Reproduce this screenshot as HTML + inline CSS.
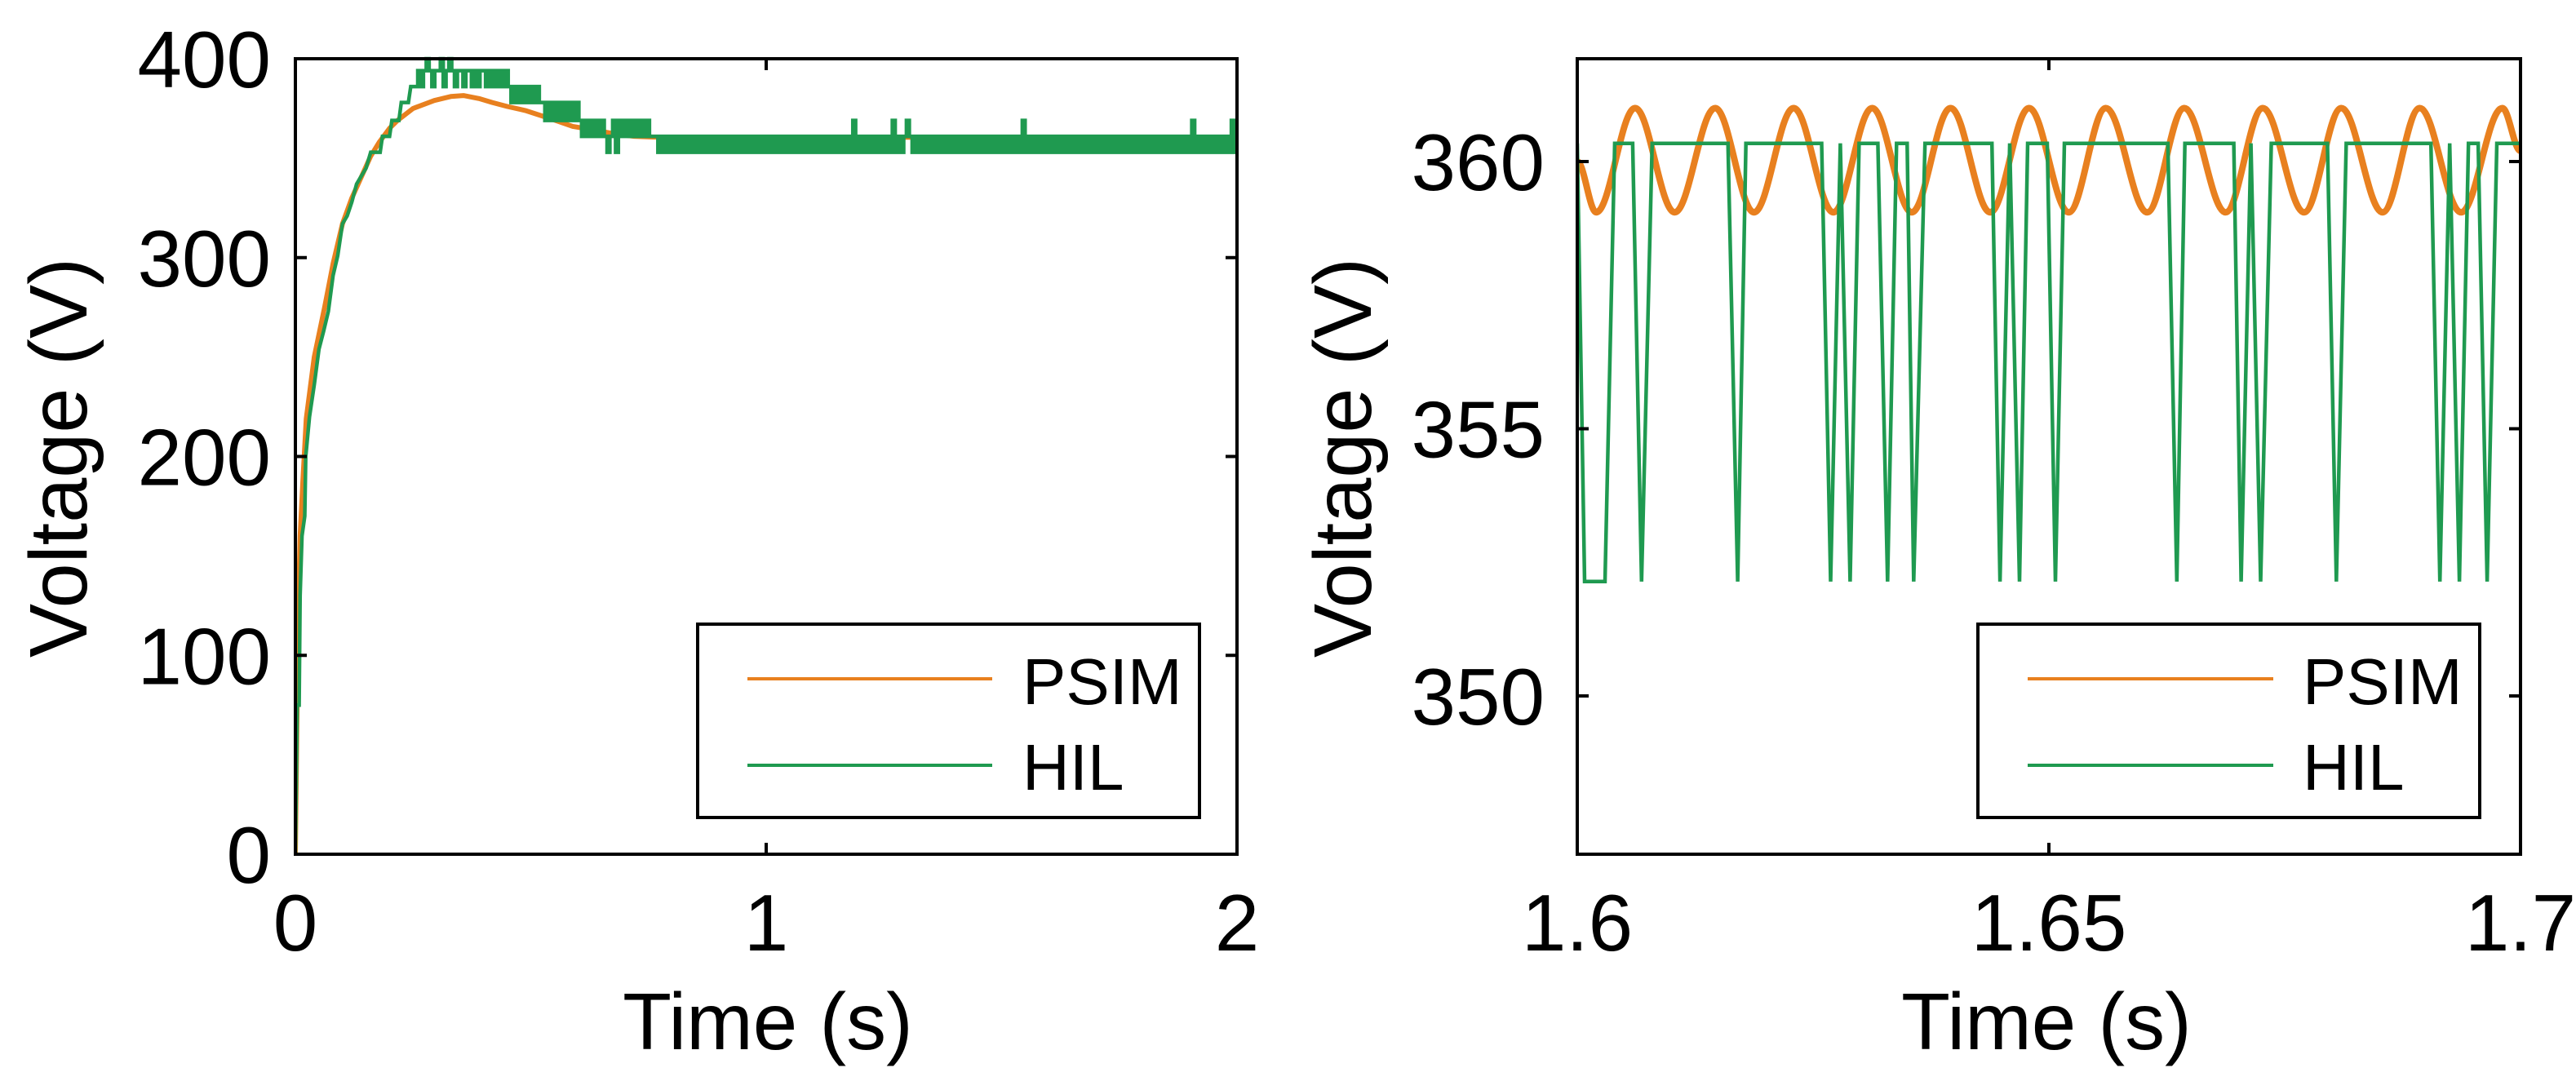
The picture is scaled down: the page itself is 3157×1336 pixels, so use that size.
<!DOCTYPE html>
<html><head><meta charset="utf-8"><style>
html,body{margin:0;padding:0;background:#fff;}
svg{display:block;}
text{font-family:"Liberation Sans",Arial,sans-serif;fill:#000;}
</style></head><body>
<svg id="fig" width="3157" height="1336" viewBox="0 0 3157 1336" xmlns="http://www.w3.org/2000/svg">
<g id="left"></g>
<g id="right"></g>
</svg>
<script>
// ---------- Left chart data ----------
const leftXTicks = [0, 1, 2];
const leftXTickLabels = ["0", "1", "2"];
const leftYTicks = [0, 100, 200, 300, 400];
const leftYTickLabels = ["0", "100", "200", "300", "400"];
const psimLeftT = [0, 0.003, 0.006, 0.01, 0.016, 0.023, 0.04, 0.062, 0.08, 0.1, 0.12, 0.139, 0.16, 0.178, 0.2, 0.217, 0.25, 0.295, 0.33, 0.357, 0.39, 0.418, 0.45, 0.488, 0.54, 0.589, 0.64, 0.682, 0.72, 0.76, 0.9, 1.2, 1.6, 2.0];
const psimLeftV = [0, 60, 120, 160, 188, 219, 250, 275, 297, 317, 330, 340, 351, 358, 365, 369, 375, 379, 381, 381.5, 380, 378, 376, 374, 370, 366, 364, 362, 361, 360.6, 360.5, 360.5, 360.5, 360.5];
const hilEarlyT = [0, 0.004, 0.008, 0.01, 0.014, 0.02, 0.022, 0.03, 0.04, 0.05, 0.06, 0.07, 0.08, 0.09, 0.1, 0.11, 0.12, 0.13, 0.14, 0.15, 0.16, 0.18, 0.185, 0.2, 0.205, 0.22, 0.225, 0.24, 0.245, 0.254];
const hilEarlyV = [0, 75, 75, 130, 160, 170, 200, 220, 236, 254, 263, 273, 291, 301, 317, 321, 328, 337, 341, 345, 353, 353, 361, 361, 369, 369, 378, 378, 386, 386];
const hilSampleStart = 0.26;
const hilSampleStep = 0.006;
const hilSampledV = [
394,386,394,400,394,386,394,394,400,386,394,400,394,386,394,394,386,394,394,386,394,386,394,394,386,394,386,394,386,394,386,394,
386,378,386,378,386,378,386,378,386,378,386,378,
378,369,378,369,378,369,378,369,378,369,378,369,378,
369,361,369,361,369,361,369,361,369,361,353,361,369,353,369,361,369,361,369,361,369,361,369,361,369,361,361,
361,353,361,353,361,353,361,353,361,353,
361,353,361,353,361,353,361,353,361,353,
361,353,361,353,361,353,361,353,361,353,
361,353,361,353,361,353,361,353,361,353,
361,353,361,353,361,353,361,353,361,353,
361,353,361,353,361,353,361,353,361,353,
361,353,361,353,361,353,361,353,361,353,
369,353,361,353,361,353,361,353,361,353,
361,353,361,353,369,353,361,353,361,369,
361,353,361,353,361,353,361,353,361,353,
361,353,361,353,361,353,361,353,361,353,
361,353,361,353,361,353,361,353,361,353,
361,353,361,353,361,353,361,353,361,353,
369,353,361,353,361,353,361,353,361,353,
361,353,361,353,361,353,361,353,361,353,
361,353,361,353,361,353,361,353,361,353,
361,353,361,353,361,353,361,353,361,353,
361,353,361,353,361,353,361,353,361,353,
361,353,361,353,361,353,361,353,361,353,
369,353,361,353,361,353,361,353,361,353,
361,353,361,353,369,353,361
];
// ---------- Right chart data ----------
const rightXTicks = [1.6, 1.65, 1.7];
const rightXTickLabels = ["1.6", "1.65", "1.7"];
const rightYTicks = [350, 355, 360];
const rightYTickLabels = ["350", "355", "360"];
const psimRightT = [1.6, 1.60201, 1.60613, 1.61033, 1.61462, 1.61874, 1.62294, 1.62715, 1.63126, 1.63546, 1.63958, 1.64378, 1.6479, 1.6521, 1.65604, 1.66042, 1.66436, 1.66874, 1.67268, 1.67706, 1.681, 1.68538, 1.68932, 1.6937, 1.69807, 1.7];
const psimRightV = [360.0, 359.05, 361.0, 359.05, 361.0, 359.05, 361.0, 359.05, 361.0, 359.05, 361.0, 359.05, 361.0, 359.05, 361.0, 359.05, 361.0, 359.05, 361.0, 359.05, 361.0, 359.05, 361.0, 359.05, 361.0, 360.2];
const hilRightT = [1.6,1.60078,1.60294,1.60397,1.60587,1.60682,1.60794,1.61598,1.61701,1.61788,1.62591,1.62686,1.62789,1.62893,1.62988,1.63187,1.6329,1.63385,1.63497,1.63567,1.63687,1.64396,1.64482,1.64585,1.64689,1.64775,1.64983,1.65069,1.65164,1.66261,1.66356,1.66442,1.6696,1.67038,1.67142,1.67245,1.67358,1.67953,1.68048,1.68152,1.6905,1.69145,1.69249,1.69352,1.69448,1.69551,1.69646,1.69749,1.7];
const hilRightV = [360.34,352.14,352.14,360.34,360.34,352.14,360.34,360.34,352.14,360.34,360.34,352.14,360.34,352.14,360.34,360.34,352.14,360.34,360.34,352.14,360.34,360.34,352.14,360.34,352.14,360.34,360.34,352.14,360.34,360.34,352.14,360.34,360.34,352.14,360.34,352.14,360.34,360.34,352.14,360.34,360.34,352.14,360.34,352.14,360.34,360.34,352.14,360.34,360.34];
const legendLabels = ["PSIM", "HIL"];

const NS = "http://www.w3.org/2000/svg";
const ORANGE = "#E8801F", GREEN = "#1F9A50";
function mk(tag, attrs, parent) {
  const e = document.createElementNS(NS, tag);
  for (const k in attrs) e.setAttribute(k, attrs[k]);
  parent.appendChild(e);
  return e;
}
function linScale(d0, d1, r0, r1) { return v => r0 + (v - d0) / (d1 - d0) * (r1 - r0); }

function drawAxes(g, L, R, T, B, sx, sy, xt, xtl, yt, ytl, yLabelRight, yTitleX, yTitleY, xTitleX) {
  for (let i = 0; i < xt.length; i++) {
    const x = sx(xt[i]);
    const t1 = mk("line", {x1: x, x2: x, y1: B, y2: B - 14, stroke: "#000", "stroke-width": 4}, g);
    
    
    const t2 = mk("line", {x1: x, x2: x, y1: T, y2: T + 14, stroke: "#000", "stroke-width": 4}, g);
    
    
    const lb = mk("text", {x: x, y: 1165, "font-size": 98, "text-anchor": "middle"}, g);
    lb.textContent = xtl[i];
    
    
  }
  for (let i = 0; i < yt.length; i++) {
    const y = sy(yt[i]);
    const t1 = mk("line", {x1: L, x2: L + 14, y1: y, y2: y, stroke: "#000", "stroke-width": 4}, g);
    
    
    const t2 = mk("line", {x1: R, x2: R - 14, y1: y, y2: y, stroke: "#000", "stroke-width": 4}, g);
    
    
    const lb = mk("text", {x: yLabelRight, y: y + 35, "font-size": 98, "text-anchor": "end"}, g);
    lb.textContent = ytl[i];
    
    
  }
  const yt2 = mk("text", {x: 0, y: 0, "font-size": 100, "text-anchor": "middle", textLength: 490, lengthAdjust: "spacingAndGlyphs", transform: `translate(${yTitleX},${yTitleY}) rotate(-90)`}, g);
  yt2.textContent = "Voltage (V)";
  
  
  const xt2 = mk("text", {x: xTitleX, y: 1286, "font-size": 98, "text-anchor": "middle"}, g);
  xt2.textContent = "Time (s)";
  
  
}
function polyPts(ts, vs, sx, sy) {
  return ts.map((t, i) => sx(t).toFixed(1) + "," + sy(vs[i]).toFixed(1)).join(" ");
}
function drawFrame(g, L, R, T, B) {
  const f = mk("rect", {x: L, y: T, width: R - L, height: B - T, fill: "none", stroke: "#000", "stroke-width": 4}, g);
  
  
}
function drawLegend(g, x0, x1, lx0, lx1, tx) {
  const box = mk("rect", {x: x0, y: 765, width: x1 - x0, height: 237, fill: "#fff", stroke: "#000", "stroke-width": 4}, g);
  
  
  const ys = [832, 938], cols = [ORANGE, GREEN], bys = [863, 968];
  for (let i = 0; i < 2; i++) {
    const ln = mk("line", {x1: lx0, x2: lx1, y1: ys[i], y2: ys[i], stroke: cols[i], "stroke-width": 4}, g);
    
    
    const t = mk("text", {x: tx, y: bys[i], "font-size": 80}, g);
    t.textContent = legendLabels[i];
    
    
  }
}

// ----- Left -----
(function () {
  const g = document.getElementById("left");
  const L = 362, R = 1516, T = 72, B = 1047;
  const sx = linScale(0, 2, L, R), sy = linScale(0, 400, B, T);
  const clip = mk("clipPath", {id: "clipL"}, g);
  mk("rect", {x: L, y: T - 4, width: R - L, height: B - T + 4}, clip);
  const ps = mk("polyline", {points: polyPts(psimLeftT, psimLeftV, sx, sy), fill: "none", stroke: ORANGE, "stroke-width": 6, "stroke-linejoin": "round", "clip-path": "url(#clipL)"}, g);
  
  
  const ht = hilEarlyT.slice(), hv = hilEarlyV.slice();
  let prev = hilEarlyV[hilEarlyV.length - 1];
  for (let i = 0; i < hilSampledV.length; i++) {
    const t = hilSampleStart + i * hilSampleStep;
    ht.push(t); hv.push(prev);
    ht.push(t); hv.push(hilSampledV[i]);
    prev = hilSampledV[i];
  }
  const hl = mk("polyline", {points: polyPts(ht, hv, sx, sy), fill: "none", stroke: GREEN, "stroke-width": 4.5, "clip-path": "url(#clipL)"}, g);
  
  
  drawFrame(g, L, R, T, B);
  drawAxes(g, L, R, T, B, sx, sy, leftXTicks, leftXTickLabels, leftYTicks, leftYTickLabels, 332, 106, 561, 941);
  drawLegend(g, 855, 1470, 916, 1216, 1253);
})();

// ----- Right -----
(function () {
  const g = document.getElementById("right");
  const L = 1933, R = 3089, T = 72, B = 1047;
  const sx = linScale(1.6, 1.7, L, R);
  const sy = linScale(350, 360, 853, 198);
  const clip = mk("clipPath", {id: "clipR"}, g);
  mk("rect", {x: L, y: T, width: R - L, height: B - T}, clip);
  let d = "M" + sx(psimRightT[0]).toFixed(1) + "," + sy(psimRightV[0]).toFixed(1);
  for (let i = 1; i < psimRightT.length; i++) {
    const x0 = sx(psimRightT[i - 1]), y0 = sy(psimRightV[i - 1]);
    const x1 = sx(psimRightT[i]), y1 = sy(psimRightV[i]);
    const dx = (x1 - x0) * 0.36;
    d += ` C${(x0 + dx).toFixed(1)},${y0.toFixed(1)} ${(x1 - dx).toFixed(1)},${y1.toFixed(1)} ${x1.toFixed(1)},${y1.toFixed(1)}`;
  }
  const ps = mk("path", {d: d, fill: "none", stroke: ORANGE, "stroke-width": 8, "clip-path": "url(#clipR)"}, g);
  
  
  const hl = mk("polyline", {points: polyPts(hilRightT, hilRightV, sx, sy), fill: "none", stroke: GREEN, "stroke-width": 4.5, "clip-path": "url(#clipR)"}, g);
  
  
  drawFrame(g, L, R, T, B);
  drawAxes(g, L, R, T, B, sx, sy, rightXTicks, rightXTickLabels, rightYTicks, rightYTickLabels, 1893, 1680, 561, 2508);
  drawLegend(g, 2424, 3039, 2485, 2786, 2822);
})();
</script>
</body></html>
